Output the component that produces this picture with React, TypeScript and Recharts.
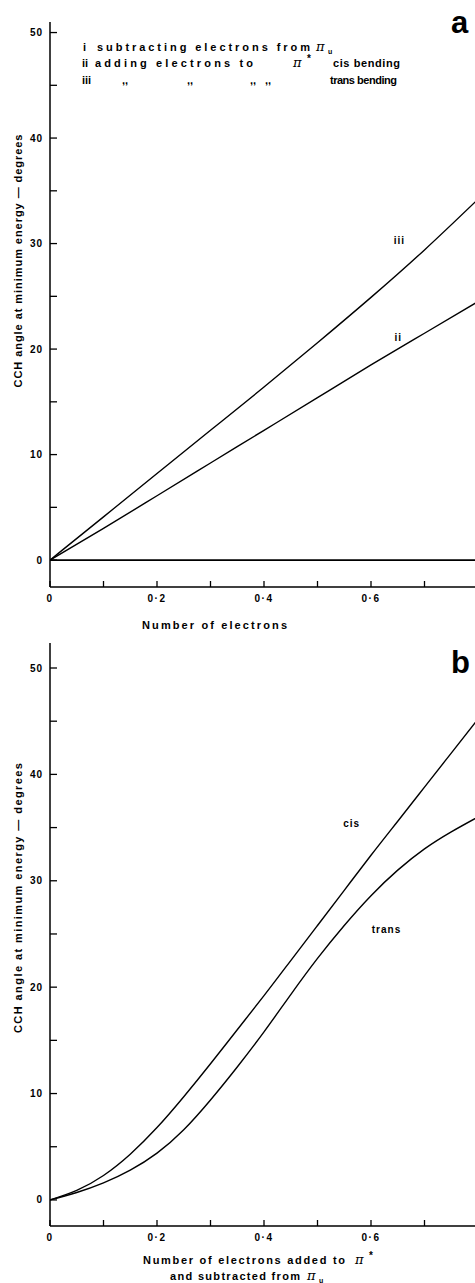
import React from 'react';
import { LineChart, Line, XAxis, YAxis, ReferenceDot } from 'recharts';

const FONT = '"Liberation Sans", Arial, sans-serif';

// Panel a
const xValuesA = [0, 0.1, 0.2, 0.3, 0.4, 0.5, 0.6, 0.7, 0.8];
const seriesI = [0, 0, 0, 0, 0, 0, 0, 0, 0];
const seriesII = [0, 3.0, 6.1, 9.2, 12.3, 15.4, 18.5, 21.5, 24.5];
const seriesIII = [0, 4.1, 8.2, 12.3, 16.4, 20.6, 24.9, 29.4, 34.2];

// Panel b
const xValuesB = [0, 0.05, 0.1, 0.15, 0.2, 0.25, 0.3, 0.35, 0.4, 0.45, 0.5, 0.55, 0.6, 0.65, 0.7, 0.75, 0.8];
const seriesCis = [0, 0.9, 2.3, 4.3, 6.8, 9.7, 12.8, 16.0, 19.2, 22.5, 25.8, 29.1, 32.4, 35.6, 38.8, 42.0, 45.2];
const seriesTrans = [0, 0.7, 1.6, 2.8, 4.4, 6.6, 9.4, 12.5, 15.8, 19.3, 22.7, 25.8, 28.6, 31.0, 33.0, 34.6, 36.0];

// Ticks
const yTicks = [0, 5, 10, 15, 20, 25, 30, 35, 40, 45, 50];
const xTicks = [0, 0.1, 0.2, 0.3, 0.4, 0.5, 0.6, 0.7, 0.8];
const xTickLabels: Record<number, string> = { 0: '0', 2: '0·2', 4: '0·4', 6: '0·6' };

const dataA = xValuesA.map((x, k) => ({ x, i: seriesI[k], ii: seriesII[k], iii: seriesIII[k] }));
const dataB = xValuesB.map((x, k) => ({ x, cis: seriesCis[k], trans: seriesTrans[k] }));

const txt = { fontFamily: FONT, fontWeight: 'bold' as const, fill: '#000' };

function YTick(props: any) {
  const { x, y, payload } = props;
  const v = payload.value;
  const major = v % 10 === 0;
  return (
    <g>
      <line x1={x} y1={y} x2={x + 7} y2={y} stroke="#000" strokeWidth={1.3} />
      {major && (
        <text x={x - 7} y={y + 3.5} textAnchor="end" fontSize={10} letterSpacing={1} {...txt}>
          {v}
        </text>
      )}
    </g>
  );
}

function XTick(props: any) {
  const { x, y, payload } = props;
  const k = Math.round(payload.value * 10);
  const label = xTickLabels[k];
  return (
    <g>
      <line x1={x} y1={y} x2={x} y2={y - 6} stroke="#000" strokeWidth={1.3} />
      {label && (
        <text x={x} y={y + 15} textAnchor="middle" fontSize={10} letterSpacing={1.5} {...txt}>
          {label}
        </text>
      )}
    </g>
  );
}

const lbl = (value: string) => ({
  value,
  position: 'center' as const,
  fontSize: 10,
  fontWeight: 'bold',
  fill: '#000',
  fontFamily: FONT,
  letterSpacing: 1,
});

const PI = { fontSize: 13, fontStyle: 'italic' as const, fontFamily: "'DejaVu Serif', serif", fill: '#000' };

function Overlay() {
  const t = { ...txt, fontSize: 11 };
  return (
    <svg
      width={475}
      height={1283}
      style={{ position: 'absolute', left: 0, top: 0, pointerEvents: 'none' }}
    >
      {/* panel letters */}
      <text x={451} y={33} fontSize={31} {...txt}>a</text>
      <text x={451} y={673} fontSize={31} {...txt}>b</text>

      {/* legend panel a */}
      <text x={83} y={51} {...t}>i</text>
      <text x={97} y={51} textLength={213} lengthAdjust="spacing" {...t}>subtracting electrons from</text>
      <text x={316} y={51} {...PI}>π</text>
      <text x={328} y={54} {...t} fontSize={7}>u</text>

      <text x={82} y={67} {...t}>ii</text>
      <text x={95} y={67} textLength={158} lengthAdjust="spacing" {...t}>adding electrons to</text>
      <text x={293} y={67} {...PI}>π</text>
      <text x={307} y={62} {...t} fontSize={10}>*</text>
      <text x={333} y={67} textLength={67} lengthAdjust="spacing" {...t}>cis bending</text>

      <text x={82} y={84} {...t}>iii</text>
      <text x={122} y={84} {...t}>,,</text>
      <text x={187} y={84} {...t}>,,</text>
      <text x={250} y={84} {...t}>,,</text>
      <text x={265} y={84} {...t}>,,</text>
      <text x={330} y={84} textLength={67} lengthAdjust="spacing" {...t}>trans bending</text>

      {/* axis titles panel a */}
      <text x={142} y={629} textLength={145} lengthAdjust="spacing" {...t}>Number of electrons</text>
      <text
        transform="translate(22,261) rotate(-90)"
        textAnchor="middle"
        textLength={253}
        lengthAdjust="spacing"
        {...t}
      >
        CCH angle at minimum energy — degrees
      </text>

      {/* axis titles panel b */}
      <text
        transform="translate(22,898) rotate(-90)"
        textAnchor="middle"
        textLength={270}
        lengthAdjust="spacing"
        {...t}
      >
        CCH angle at minimum energy — degrees
      </text>
      <text x={143} y={1264} textLength={202} lengthAdjust="spacing" {...t}>Number of electrons added to</text>
      <text x={355} y={1264} {...PI}>π</text>
      <text x={369} y={1259} {...t} fontSize={10}>*</text>
      <text x={170} y={1280} textLength={130} lengthAdjust="spacing" {...t}>and subtracted from</text>
      <text x={307} y={1280} {...PI}>π</text>
      <text x={319} y={1282.5} {...t} fontSize={7}>u</text>
    </svg>
  );
}

export default function App() {
  return (
    <div
      style={{
        position: 'absolute',
        left: 0,
        top: 0,
        width: 475,
        height: 1283,
        overflow: 'hidden',
        background: '#fff',
      }}
    >
      <div style={{ position: 'absolute', left: 0, top: 0 }}>
        <LineChart width={478} height={645} data={dataA} margin={{ top: 22, right: 0, bottom: 57, left: 49 }}>
          <XAxis
            dataKey="x"
            type="number"
            domain={[0, 0.8]}
            ticks={xTicks}
            interval={0}
            height={1}
            tickSize={0}
            tickMargin={0}
            tickLine={false}
            tick={<XTick />}
            axisLine={{ stroke: '#000', strokeWidth: 1.5 }}
            allowDataOverflow
          />
          <YAxis
            type="number"
            domain={[-2.55, 51]}
            ticks={yTicks}
            interval={0}
            width={1}
            tickSize={0}
            tickMargin={0}
            tickLine={false}
            tick={<YTick />}
            axisLine={{ stroke: '#000', strokeWidth: 1.5 }}
            allowDataOverflow
          />
          <Line dataKey="i" type="linear" stroke="#000" strokeWidth={1.8} dot={false} isAnimationActive={false} />
          <Line dataKey="ii" type="natural" stroke="#000" strokeWidth={1.4} dot={false} isAnimationActive={false} />
          <Line dataKey="iii" type="natural" stroke="#000" strokeWidth={1.4} dot={false} isAnimationActive={false} />
          <ReferenceDot x={0.653} y={30.3} r={0} fill="none" stroke="none" label={lbl('iii')} />
          <ReferenceDot x={0.651} y={21.1} r={0} fill="none" stroke="none" label={lbl('ii')} />
        </LineChart>
      </div>
      <div style={{ position: 'absolute', left: 0, top: 620 }}>
        <LineChart width={478} height={663} data={dataB} margin={{ top: 23, right: 0, bottom: 56, left: 49 }}>
          <XAxis
            dataKey="x"
            type="number"
            domain={[0, 0.8]}
            ticks={xTicks}
            interval={0}
            height={1}
            tickSize={0}
            tickMargin={0}
            tickLine={false}
            tick={<XTick />}
            axisLine={{ stroke: '#000', strokeWidth: 1.5 }}
            allowDataOverflow
          />
          <YAxis
            type="number"
            domain={[-2.45, 52.35]}
            ticks={yTicks}
            interval={0}
            width={1}
            tickSize={0}
            tickMargin={0}
            tickLine={false}
            tick={<YTick />}
            axisLine={{ stroke: '#000', strokeWidth: 1.5 }}
            allowDataOverflow
          />
          <Line dataKey="cis" type="natural" stroke="#000" strokeWidth={1.4} dot={false} isAnimationActive={false} />
          <Line dataKey="trans" type="natural" stroke="#000" strokeWidth={1.4} dot={false} isAnimationActive={false} />
          <ReferenceDot x={0.564} y={35.4} r={0} fill="none" stroke="none" label={lbl('cis')} />
          <ReferenceDot x={0.629} y={25.4} r={0} fill="none" stroke="none" label={lbl('trans')} />
        </LineChart>
      </div>
      <Overlay />
    </div>
  );
}
